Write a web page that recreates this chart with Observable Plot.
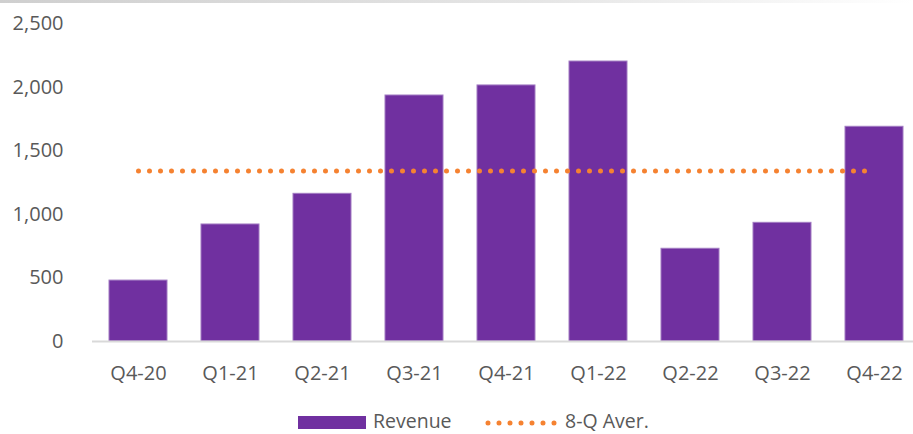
<!DOCTYPE html>
<html>
<head>
<meta charset="utf-8">
<script src="https://cdn.jsdelivr.net/npm/d3@7"></script>
<script src="https://cdn.jsdelivr.net/npm/@observablehq/plot@0.6"></script>
<style>
  html, body { margin: 0; padding: 0; background: #fff; }
  #wrap { position: relative; width: 913px; height: 434px; font-family: "Open Sans", sans-serif; }
  #topline { position: absolute; left: 0; top: 0; width: 913px; height: 3px; background: linear-gradient(to right, #cfcfcf, #e6e6e6 60%, #ffffff); }
  #chart { position: absolute; left: 0; top: 0; }
  #legend { position: absolute; left: 0; top: 408px; width: 913px; height: 26px; font-size: 19.5px; line-height: 26px; color: #595959; }
  .item { position: absolute; top: 0; display: flex; align-items: center; height: 26px; }
</style>
</head>
<body>
<div id="wrap">
  <div id="chart"></div>
  <div id="topline"></div>
  <div id="legend">
    <div class="item" style="left:298px">
      <span style="display:inline-block;width:68px;height:13px;background:#7030A0;margin-top:3px"></span>
      <span style="margin-left:7px">Revenue</span>
    </div>
    <div class="item" style="left:485px">
      <svg width="76" height="26"><line x1="3" y1="15" x2="73" y2="15" stroke="#F58231" stroke-width="5" stroke-linecap="round" stroke-dasharray="0 11"/></svg>
      <span style="margin-left:4px">8-Q Aver.</span>
    </div>
  </div>
</div>
<script>
const quarters = ["Q4-20","Q1-21","Q2-21","Q3-21","Q4-21","Q1-22","Q2-22","Q3-22","Q4-22"];
const revenue = [479, 920, 1161, 1934, 2013, 2201, 729, 933, 1688];
const avg8Q = [1340, 1340, 1340, 1340, 1340, 1340, 1340, 1340, 1340];
const yTicks = [0, 500, 1000, 1500, 2000, 2500];

const data = quarters.map((q, i) => ({q, revenue: revenue[i], avg: avg8Q[i]}));

const chart = Plot.plot({
  width: 913,
  height: 392,
  marginTop: 23,
  marginBottom: 51,
  marginLeft: 92,
  marginRight: 0,
  style: {fontFamily: "Open Sans, sans-serif", fontSize: "20px", color: "#595959", background: "transparent"},
  x: {domain: quarters, paddingInner: 0.372, paddingOuter: 0.134, align: 0.63, label: null, tickSize: 0, tickPadding: 24},
  y: {domain: [0, 2500], ticks: yTicks, tickFormat: d3.format(","), label: null, tickSize: 0, tickPadding: 29},
  marks: [
    Plot.barY(data, {x: "q", y: "revenue", fill: "#7030A0", stroke: "#a27bc2", strokeWidth: 1}),
    Plot.ruleY([0], {stroke: "#d9d9d9", strokeWidth: 2}),
    Plot.line(data, {x: "q", y: "avg", stroke: "#F58231", strokeWidth: 5, strokeLinecap: "round", strokeDasharray: "0 11"})
  ]
});
document.getElementById("chart").appendChild(chart);
</script>
</body>
</html>
